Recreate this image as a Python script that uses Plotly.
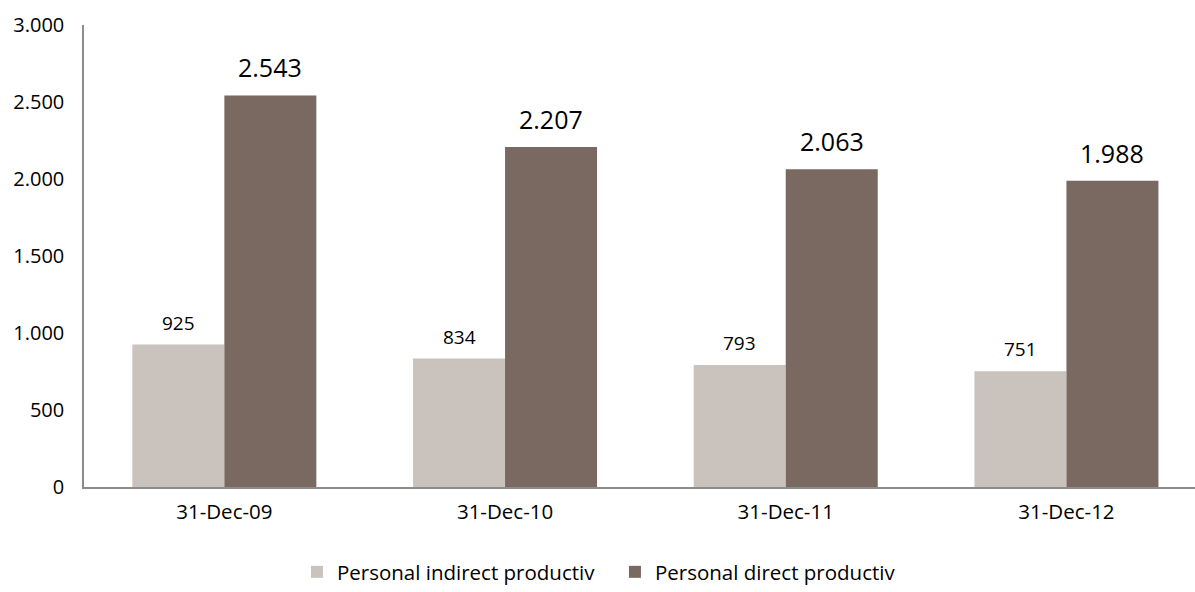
import plotly.graph_objects as go

categories = ["31-Dec-09", "31-Dec-10", "31-Dec-11", "31-Dec-12"]
indirect = [925, 834, 793, 751]
direct = [2543, 2207, 2063, 1988]
series_names = ["Personal indirect productiv", "Personal direct productiv"]
y_ticks = [0, 500, 1000, 1500, 2000, 2500, 3000]

FONT = "Open Sans"
LIGHT = "#CAC2BD"
DARK = "#7A6961"


def fmt(v):
    return f"{v:,}".replace(",", ".")


fig = go.Figure()
fig.add_trace(go.Bar(x=categories, y=indirect, name=series_names[0],
                     marker=dict(color=LIGHT, line=dict(width=0))))
fig.add_trace(go.Bar(x=categories, y=direct, name=series_names[1],
                     marker=dict(color=DARK, line=dict(width=0))))

half = (1 - 0.3445) / 4
annotations = []
for i, (a, b) in enumerate(zip(indirect, direct)):
    annotations.append(dict(x=i - half, y=a, xref="x", yref="y", text=fmt(a),
                            showarrow=False, yanchor="bottom", yshift=7,
                            font=dict(family=FONT, size=19, color="#000000")))
    annotations.append(dict(x=i + half, y=b, xref="x", yref="y", text=fmt(b),
                            showarrow=False, yanchor="bottom", yshift=9,
                            font=dict(family=FONT, size=25, color="#000000")))

fig.update_layout(
    width=1195, height=592,
    margin=dict(l=84, r=0, t=25, b=105),
    paper_bgcolor="white", plot_bgcolor="white",
    barmode="group", bargap=0.3445, bargroupgap=0,
    separators=",.",
    font=dict(family=FONT, size=20, color="#000000"),
    annotations=annotations,
    showlegend=True,
    legend=dict(orientation="h", xref="container", yref="container",
                x=0.2485, xanchor="left", y=0.0, yanchor="bottom",
                font=dict(family=FONT, size=20.5, color="#000000"),
                itemwidth=30, entrywidth=273, traceorder="normal"),
    xaxis=dict(range=[-0.5, 3.458], showline=True, linecolor="#8C8C8C", linewidth=1.5,
               ticks="", showgrid=False, zeroline=False, ticklabelstandoff=6,
               automargin=False, tickfont=dict(family=FONT, size=20.5)),
    yaxis=dict(range=[0, 3000], tickvals=y_ticks, tickformat=",d", showline=True,
               linecolor="#8C8C8C", linewidth=1.5, ticks="", showgrid=False,
               zeroline=False, ticklabelstandoff=14, automargin=False,
               tickfont=dict(family=FONT, size=20)),
)

fig.write_html(
    "out.html",
    config={"displayModeBar": False},
    post_script="document.body.style.margin='0';document.body.style.overflow='hidden';",
)
